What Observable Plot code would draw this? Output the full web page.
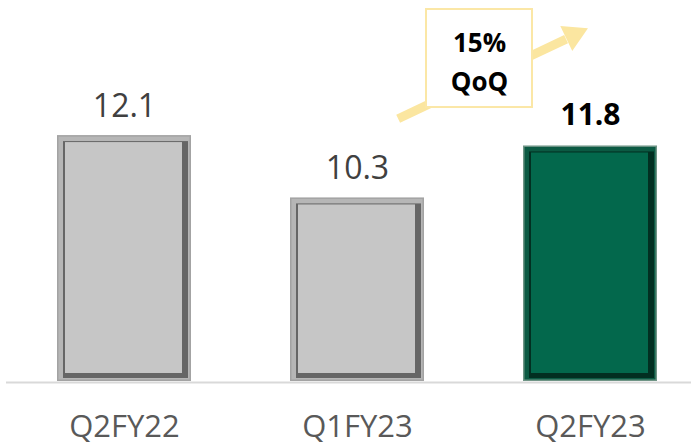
<!DOCTYPE html>
<html>
<head>
<meta charset="utf-8">
<script src="https://cdn.jsdelivr.net/npm/d3@7"></script>
<script src="https://cdn.jsdelivr.net/npm/@observablehq/plot@0.6"></script>
<style>
  html, body { margin: 0; padding: 0; background: #ffffff; }
</style>
</head>
<body>
<div id="chart"></div>
<script>
// ---- data ----
const quarters = ["Q2FY22", "Q1FY23", "Q2FY23"];
const values = [12.1, 10.3, 11.8];
const highlighted = [false, false, true];
const annotationText = "15%\nQoQ";
const yBase = 5;

const rows = quarters.map((q, i) => ({q, v: values[i], hl: highlighted[i]}));

// ---- styles ----
const palettes = {
  gray:  {outer: "#a3a3a3", light: "#b6b6b6", dark: "#666666", face: "#c6c6c6"},
  green: {outer: "#6f9586", light: "#0c5a43", dark: "#022f21", face: "#03684c"}
};
const layers = [
  {key: "outer", l: 0,   t: 0,   r: 0,   b: 0},
  {key: "light", l: 1.5, t: 1.5, r: 1.5, b: 1.5},
  {key: "dark",  l: 6,   t: 6,   r: 3,   b: 3},
  {key: "face",  l: 8,   t: 7,   r: 9,   b: 8}
];
const arrowColor = "#fbe6a0";

const barMarks = layers.map(L => Plot.barY(rows, {
  x: "q",
  y1: () => yBase,
  y2: "v",
  fill: d => (d.hl ? palettes.green : palettes.gray)[L.key],
  insetLeft: L.l, insetTop: L.t, insetRight: L.r, insetBottom: L.b
}));

const chart = Plot.plot({
  width: 691,
  height: 445,
  marginTop: 0,
  marginBottom: 64,
  marginLeft: 0,
  marginRight: 0,
  style: {fontFamily: "'Open Sans', sans-serif", background: "#ffffff"},
  x: {domain: quarters, paddingInner: 0.425, paddingOuter: 0.195, align: 0.626},
  y: {domain: [yBase, 16], axis: null},
  color: {type: "identity"},
  marks: [
    Plot.ruleY([yBase], {stroke: "#d9d9d9", strokeWidth: 2, insetLeft: 6, dy: 1}),
    ...barMarks,
    Plot.text(rows.filter(d => !d.hl), {
      x: "q", y: "v", text: d => d.v.toFixed(1),
      dy: -29, lineAnchor: "middle",
      fontSize: 32, fill: "#404040"
    }),
    Plot.text(rows.filter(d => d.hl), {
      x: "q", y: "v", text: d => d.v.toFixed(1),
      dy: -31, lineAnchor: "middle",
      fontSize: 30, fontWeight: "bold", fill: "#000000"
    }),
    // growth arrow (annotation)
    Plot.arrow([0], {
      x1: () => quarters[1], y1: () => 12.03,
      x2: () => quarters[2], y2: () => 15.22,
      insetStart: 45, insetEnd: 27,
      headLength: 0, stroke: arrowColor, strokeWidth: 9, strokeLinecap: "butt"
    }),
    Plot.dot([0], {
      x: () => quarters[2], y: () => 15, dx: -17,
      symbol: "triangle", r: 10.3, rotate: 64.4,
      fill: arrowColor, stroke: "none"
    }),
    // annotation box
    Plot.rectY([0], {
      x: () => quarters[2], y1: () => 12.91, y2: () => 15.74,
      insetLeft: -97, insetRight: 125,
      fill: "#ffffff", stroke: "#fbe7a6", strokeWidth: 2
    }),
    Plot.text([annotationText], {
      x: () => quarters[2], y: () => 14.30, dx: -111,
      text: d => d, lineHeight: 1.48, lineAnchor: "middle",
      fontSize: 26, fontWeight: "bold", fill: "#000000"
    }),
    Plot.axisX({tickSize: 0, tickPadding: 33, fontSize: 31, fill: "#595959", label: null})
  ]
});

document.getElementById("chart").appendChild(chart);
</script>
</body>
</html>
